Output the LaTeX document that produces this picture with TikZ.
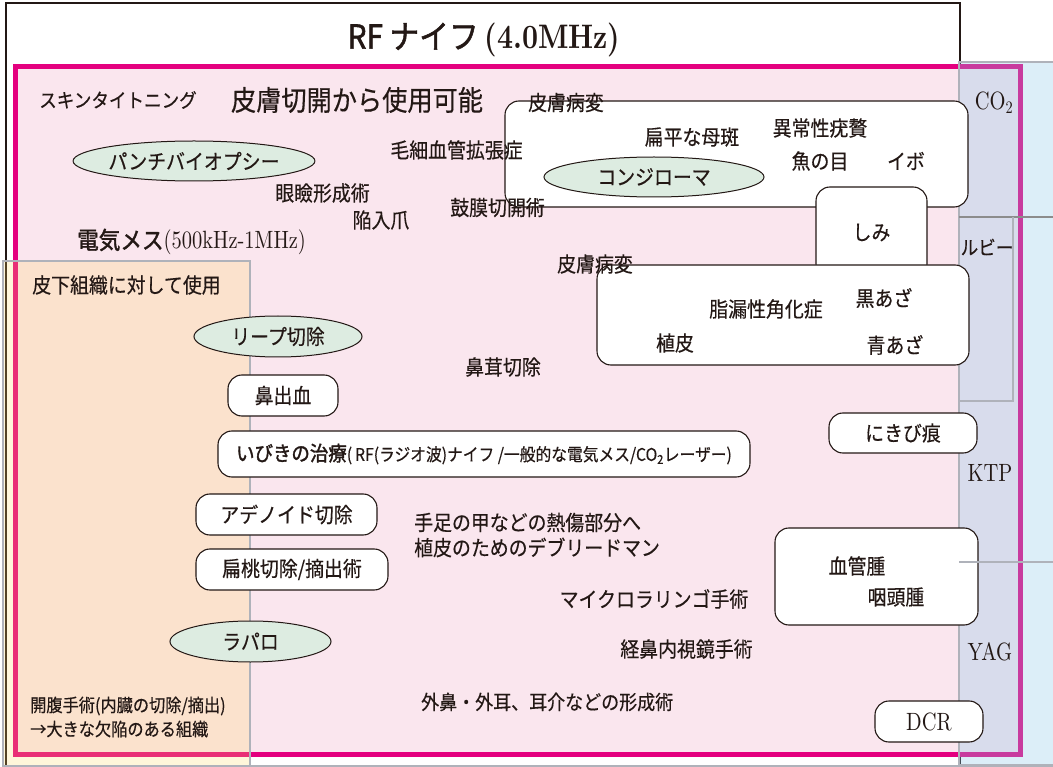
\documentclass[tikz,border=0pt]{standalone}
\usepackage{fontspec}
\usetikzlibrary{shapes.geometric}
\newfontfamily\jp{Noto Sans CJK JP}[FakeStretch=0.9, FakeBold=0.4]
\newfontfamily\jpb{Noto Sans CJK JP}[FakeStretch=0.9, FakeBold=1.6]
\newfontfamily\lmc{lmroman10-regular.otf}[FakeStretch=0.82]
\newfontfamily\lmcb{lmroman10-bold.otf}[FakeStretch=0.82]
\definecolor{pinkbg}{RGB}{250,230,238}
\definecolor{magline}{RGB}{228,0,127}
\definecolor{ellfill}{RGB}{221,236,225}
\definecolor{bluepanel}{RGB}{138,198,232}
\definecolor{orangepanel}{RGB}{255,215,90}
\definecolor{panelgray}{RGB}{175,178,186}
\definecolor{inkblack}{RGB}{35,24,21}
\begin{document}
\begin{tikzpicture}[x=1pt,y=-1pt,
  jt/.style={font=\jp\fontsize{21}{25}\selectfont, inner sep=0pt, text=inkblack},
  jsmall/.style={font=\jp\fontsize{18}{22}\selectfont, inner sep=0pt, text=inkblack},
  lt/.style={font=\lmc\fontsize{25}{29}\selectfont, inner sep=0pt, text=inkblack},
  rbox/.style={draw=inkblack, line width=1.1pt, fill=white, rounded corners=14pt, inner sep=0pt},
  ell/.style={ellipse, draw=inkblack, line width=1pt, fill=ellfill, inner sep=0pt},
]
\useasboundingbox (0,0) rectangle (1053,767);
% outer RF knife frame
\draw[inkblack, line width=2pt, fill=white] (6,800) -- (6,3) -- (960,3) -- (960,800);
% pink region
\draw[magline, line width=5pt, fill=pinkbg] (15,67) rectangle (1020,754);
% subcutaneous panel
\draw[panelgray, line width=1.3pt, fill=orangepanel, fill opacity=0.22] (3,261) rectangle (250,790);
% laser panel
\draw[panelgray, line width=1.3pt, fill=bluepanel, fill opacity=0.3] (959,62) rectangle (1070,765);
\draw[panelgray, line width=1.2pt] (3,766) -- (1053,766);
% ruby frame
\draw[black!45, line width=2pt] (959,217) -- (1053,217);
\draw[panelgray, line width=1.5pt] (1013,217) -- (1013,401) -- (959,401);

% title
\node[inner sep=0pt, text=inkblack] (title) at (484,40)
  {{\jpb\fontsize{33}{38}\selectfont RF ナイフ}\hspace{6pt}{\lmcb\fontsize{34}{38}\selectfont (4.0MHz)}};

% top texts
\node[inner sep=0pt, font=\jp\fontsize{19.5}{23}\selectfont, text=inkblack] (skintight) at (118,100) {スキンタイトニング};
\node[inner sep=0pt, font=\jp\fontsize{28}{32}\selectfont, text=inkblack] (incision) at (357,100) {皮膚切開から使用可能};

% skin lesion box 1
\node[rbox, minimum width=463pt, minimum height=106pt] (lesionA) at (736.5,154) {};
\node[jt] (lesionAlabel) at (566,102.5) {皮膚病変};
\node[jt] (nevus) at (692,137) {扁平な母斑};
\node[jt] (wart1) at (820,128) {異常性疣贅};
\node[jt] (corn) at (820,161) {魚の目};
\node[jt] (ibo) at (906,161) {イボ};
\node[ell, jt, minimum width=220pt, minimum height=40pt] (condyloma) at (654,177) {コンジローマ};
\node[rbox, jt, minimum width=111pt, minimum height=91pt] (shimi) at (871.5,232.5) {しみ};

\node[jt] (telang) at (456.5,150) {毛細血管拡張症};
\node[ell, jt, minimum width=232pt, minimum height=40pt] (punch) at (194,161) {パンチバイオプシー};
\node[jt] (eyelid) at (322.5,193) {眼瞼形成術};
\node[jt] (nail) at (381,220) {陥入爪};
\node[jt] (tympan) at (497.5,207.5) {鼓膜切開術};
\node[inner sep=0pt, anchor=west, text=inkblack] (esurg) at (77,242)
  {{\jpb\fontsize{24}{28}\selectfont 電気メス}{\lmc\fontsize{25}{28}\selectfont (500kHz-1MHz)}};

% skin lesion box 2
\node[rbox, minimum width=372pt, minimum height=100pt] (lesionB) at (783,315) {};
\node[jt] (lesionBlabel) at (595,264) {皮膚病変};
\node[jt] (seb) at (766,309) {脂漏性角化症};
\node[jt] (blackmark) at (884,298) {黒あざ};
\node[jt] (graft) at (675,343) {植皮};
\node[jt] (bluemark) at (895,345) {青あざ};

% laser labels
\node[lt] (co2) at (994,103) {CO\textsubscript{2}};
\node[inner sep=0pt, font=\jp\fontsize{19.5}{23}\selectfont, text=inkblack] (ruby) at (987,247) {ルビー};
\node[lt] (ktp) at (990,473) {KTP};
\node[lt] (yag) at (990,652) {YAG};

\node[rbox, jt, minimum width=148pt, minimum height=40pt] (acne) at (903,433) {にきび痕};
\node[jt] (polyp) at (503,367) {鼻茸切除};

% subcutaneous
\node[jt] (subcut) at (126.5,285) {皮下組織に対して使用};
\node[ell, jt, minimum width=168pt, minimum height=41pt] (leep) at (278,336.5) {リープ切除};
\node[rbox, jt, minimum width=110pt, minimum height=41pt] (epistaxis) at (283,395.5) {鼻出血};
\node[rbox, minimum width=532pt, minimum height=46pt, text=inkblack] (snore) at (484,454)
  {{\jpb\fontsize{20.5}{24}\selectfont いびきの治療}{\jp\fontsize{17.5}{21}\selectfont (\,RF(ラジオ波)ナイフ /一般的な電気メス/CO\textsubscript{2}レーザー)}};
\node[rbox, jt, minimum width=181pt, minimum height=41pt] (adenoid) at (286.5,514.5) {アデノイド切除};
\node[rbox, jt, minimum width=192pt, minimum height=41pt] (tonsil) at (292,569.5) {扁桃切除/摘出術};
\node[ell, jt, minimum width=161pt, minimum height=41pt] (lapa) at (250.5,641.5) {ラパロ};
\node[jsmall, anchor=west] (lapa1) at (30,706) {開腹手術(内臓の切除/摘出)};
\node[jsmall, anchor=west] (lapa2) at (30,729) {→大きな欠陥のある組織};

% middle texts
\node[jt, anchor=west] (burn1) at (414,522.5) {手足の甲などの熱傷部分へ};
\node[jt, anchor=west] (burn2) at (414,547.5) {植皮のためのデブリードマン};
\node[jt] (micro) at (654,599) {マイクロラリンゴ手術};
\node[jt] (endo) at (686.5,649) {経鼻内視鏡手術};
\node[jt, anchor=west, font=\jp\fontsize{20}{24}\selectfont] (plastic) at (421,702) {外鼻・外耳、耳介などの形成術};

% hemangioma box
\node[rbox, minimum width=203pt, minimum height=97pt] (hem) at (876.5,576.5) {};
\node[jt] (hem1) at (857,566) {血管腫};
\node[jt] (hem2) at (896,597) {咽頭腫};
\draw[panelgray, line width=2pt] (959,562) -- (1053,562);

\node[rbox, lt, minimum width=108pt, minimum height=41pt] (dcr) at (929,721.5) {DCR};
\end{tikzpicture}
\end{document}
